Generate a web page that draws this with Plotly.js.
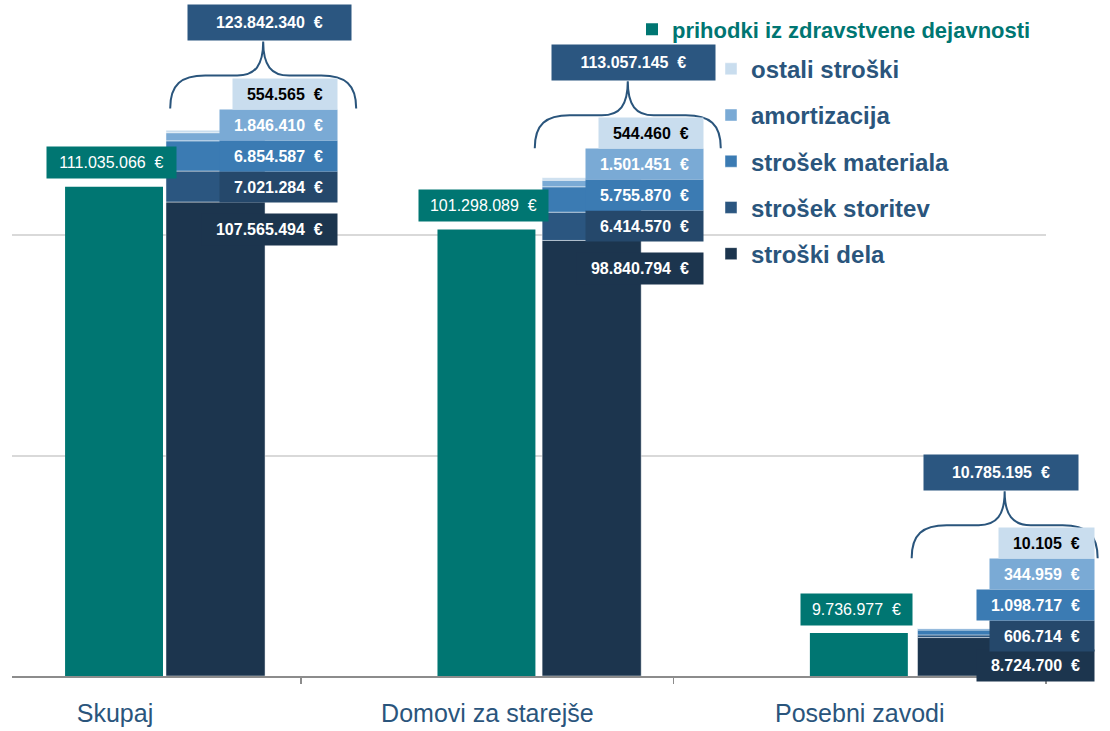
<!DOCTYPE html>
<html><head><meta charset="utf-8">
<script src="https://cdn.plot.ly/plotly-3.0.1.min.js"></script>
<style>html,body{margin:0;padding:0;background:#fff}#chart{width:1110px;height:731px}</style>
</head><body><div id="chart"></div>
<script>
// ---- data ----
const categories = ['Skupaj', 'Domovi za starejše', 'Posebni zavodi'];
const prihodki = [111035066, 101298089, 9736977];
const strosekDela = [107565494, 98840794, 8724700];
const strosekStoritev = [7021284, 6414570, 606714];
const strosekMateriala = [6854587, 5755870, 1098717];
const amortizacija = [1846410, 1501451, 344959];
const ostaliStroski = [554565, 544460, 10105];
const names = {
  prihodki: 'prihodki iz zdravstvene dejavnosti',
  dela: 'stroški dela',
  storitev: 'strošek storitev',
  materiala: 'strošek materiala',
  amortizacija: 'amortizacija',
  ostali: 'ostali stroški'
};

// ---- styles / geometry ----
const C = {
  teal: '#007672', dela: '#1c354e', storitev: '#2b5680', materiala: '#3b7bb3',
  amortizacija: '#7aaad5', ostali: '#c9ddee', text: '#2a557c', storBox: '#25486b'
};
const FONT = 'Liberation Sans, Arial, sans-serif';
const tealOffset = -0.134, tealWidth = 0.263;
const stackOffset = [0.137, 0.147, 0.155], stackWidth = 0.266;
const lblRight = [0.60, 0.582, 0.632];
const totalX = [0.416, 0.392, 0.378];
const braceX = [0.398, 0.377, 0.389];

const W = 1110, H = 731, ML = 12, MR = 8, MT = 15, MB = 55;
const plotW = W - ML - MR;            // full overlay width
const mainW = 1034;                   // width of the visible axis
const xRange = [-0.2765, 2.5];
const pxPerUnit = mainW / (xRange[1] - xRange[0]);
const x2Range = [xRange[0], xRange[0] + plotW / pxPerUnit];
const yRange = [0, 150e6];

function fmt(v) {
  return Math.round(v).toString().replace(/\B(?=(\d{3})+(?!\d))/g, '.') + '\u00a0\u00a0€';
}
function textW(s) {
  let w = 0;
  for (const ch of s) w += (ch === '.' || ch === '\u00a0' || ch === ' ') ? 0.278 : 0.556;
  return w * 16;
}

const stackSeries = [
  {key: 'dela', vals: strosekDela, rank: 5},
  {key: 'storitev', vals: strosekStoritev, rank: 4},
  {key: 'materiala', vals: strosekMateriala, rank: 3},
  {key: 'amortizacija', vals: amortizacija, rank: 2},
  {key: 'ostali', vals: ostaliStroski, rank: 1}
];

const traces = [{
  type: 'bar', x: categories, y: prihodki, name: names.prihodki,
  offset: tealOffset, width: tealWidth, marker: {color: C.teal, line: {width: 0}},
  legend: 'legend', hoverinfo: 'skip'
}];
let base = categories.map(() => 0);
stackSeries.forEach(s => {
  traces.push({
    type: 'bar', x: categories, y: s.vals, base: base.slice(), name: names[s.key],
    offset: stackOffset, width: stackWidth,
    marker: {color: C[s.key], line: {color: 'rgba(255,255,255,0.45)', width: 1}},
    legend: 'legend2', legendgroup: s.key, legendrank: s.rank, hoverinfo: 'skip'
  });
  base = base.map((b, i) => b + s.vals[i]);
});
const totals = base;

const annotations = [];
const shapes = [];
const step = 31;
categories.forEach((cat, i) => {
  const storMid = strosekDela[i] + strosekStoritev[i] / 2;
  const xr = i + lblRight[i];
  const common = {xref: 'x2', yref: 'y2', showarrow: false, borderpad: 0};
  // revenue label
  let t = fmt(prihodki[i]);
  annotations.push(Object.assign({}, common, {x: i - 0.01, y: prihodki[i], yshift: 24, text: t,
    bgcolor: C.teal, width: textW(t) + 22, height: 31,
    font: {family: FONT, size: 16, color: '#fff'}}));
  // stroški dela
  t = fmt(strosekDela[i]);
  annotations.push(Object.assign({}, common, {x: xr, xanchor: 'right', y: strosekDela[i], yshift: -28, text: t,
    bgcolor: C.dela, width: textW(t) + 28, height: 31,
    font: {family: FONT, size: 16, color: '#fff', weight: 'bold'}}));
  // stacked labels
  const stackLbl = [
    {vals: strosekStoritev, bg: C.storBox, fc: '#fff'},
    {vals: strosekMateriala, bg: C.materiala, fc: '#fff'},
    {vals: amortizacija, bg: C.amortizacija, fc: '#fff'},
    {vals: ostaliStroski, bg: C.ostali, fc: '#000'}
  ];
  stackLbl.forEach((l, k) => {
    const tt = fmt(l.vals[i]);
    annotations.push(Object.assign({}, common, {x: xr, xanchor: 'right', y: storMid, yshift: k * step, text: tt,
      bgcolor: l.bg, width: textW(tt) + 28, height: 30,
      font: {family: FONT, size: 16, color: l.fc, weight: 'bold'}}));
  });
  // total
  t = fmt(totals[i]);
  annotations.push(Object.assign({}, common, {x: i + totalX[i], y: storMid, yshift: 164, text: t,
    bgcolor: C.storitev, width: textW(t) + 56, height: 35,
    font: {family: FONT, size: 16, color: '#fff', weight: 'bold'}}));
  // brace
  shapes.push({type: 'path', xref: 'x2', yref: 'y2', xsizemode: 'pixel', ysizemode: 'pixel',
    xanchor: i + braceX[i], yanchor: storMid, layer: 'above',
    path: 'M -93,78 C -93,102 -82,111 -58,111 L -26,111 C -8,111 0,121 0,145 C 0,121 8,111 26,111 L 58,111 C 82,111 93,102 93,78',
    line: {color: C.text, width: 2}});
});

const layout = {
  width: W, height: H,
  margin: {l: ML, r: MR, t: MT, b: MB},
  paper_bgcolor: '#fff', plot_bgcolor: 'rgba(0,0,0,0)',
  barmode: 'overlay',
  showlegend: true,
  font: {family: FONT},
  xaxis: {
    type: 'category', domain: [0, mainW / plotW], range: xRange, tickson: 'boundaries',
    ticks: 'outside', ticklen: 6, tickcolor: '#8c8c8c', tickwidth: 1.5,
    showline: true, linecolor: '#8c8c8c', linewidth: 1.5, showgrid: false,
    tickfont: {family: FONT, size: 25, color: C.text}, ticklabelstandoff: 14
  },
  yaxis: {
    range: yRange, dtick: 50e6, showticklabels: false, zeroline: false,
    showgrid: true, gridcolor: '#d9d9d9', gridwidth: 2, fixedrange: true
  },
  xaxis2: {domain: [0, 1], range: x2Range, anchor: 'y2', visible: false, showgrid: false, zeroline: false},
  yaxis2: {domain: [0, 1], range: yRange, anchor: 'x2', visible: false, showgrid: false, zeroline: false},
  legend: {
    x: (632 - ML) / plotW, xanchor: 'left', y: 1.01, yanchor: 'top', bgcolor: 'rgba(0,0,0,0)',
    font: {family: FONT, size: 22, color: C.teal, weight: 'bold'}
  },
  legend2: {
    x: (711 - ML) / plotW, xanchor: 'left', y: 0.952, yanchor: 'top', bgcolor: 'rgba(0,0,0,0)',
    traceorder: 'grouped', tracegroupgap: 12,
    font: {family: FONT, size: 24, color: C.text, weight: 'bold'}
  },
  annotations: annotations,
  shapes: shapes
};

Plotly.newPlot('chart', traces, layout, {staticPlot: true, displayModeBar: false});
</script>
</body></html>
